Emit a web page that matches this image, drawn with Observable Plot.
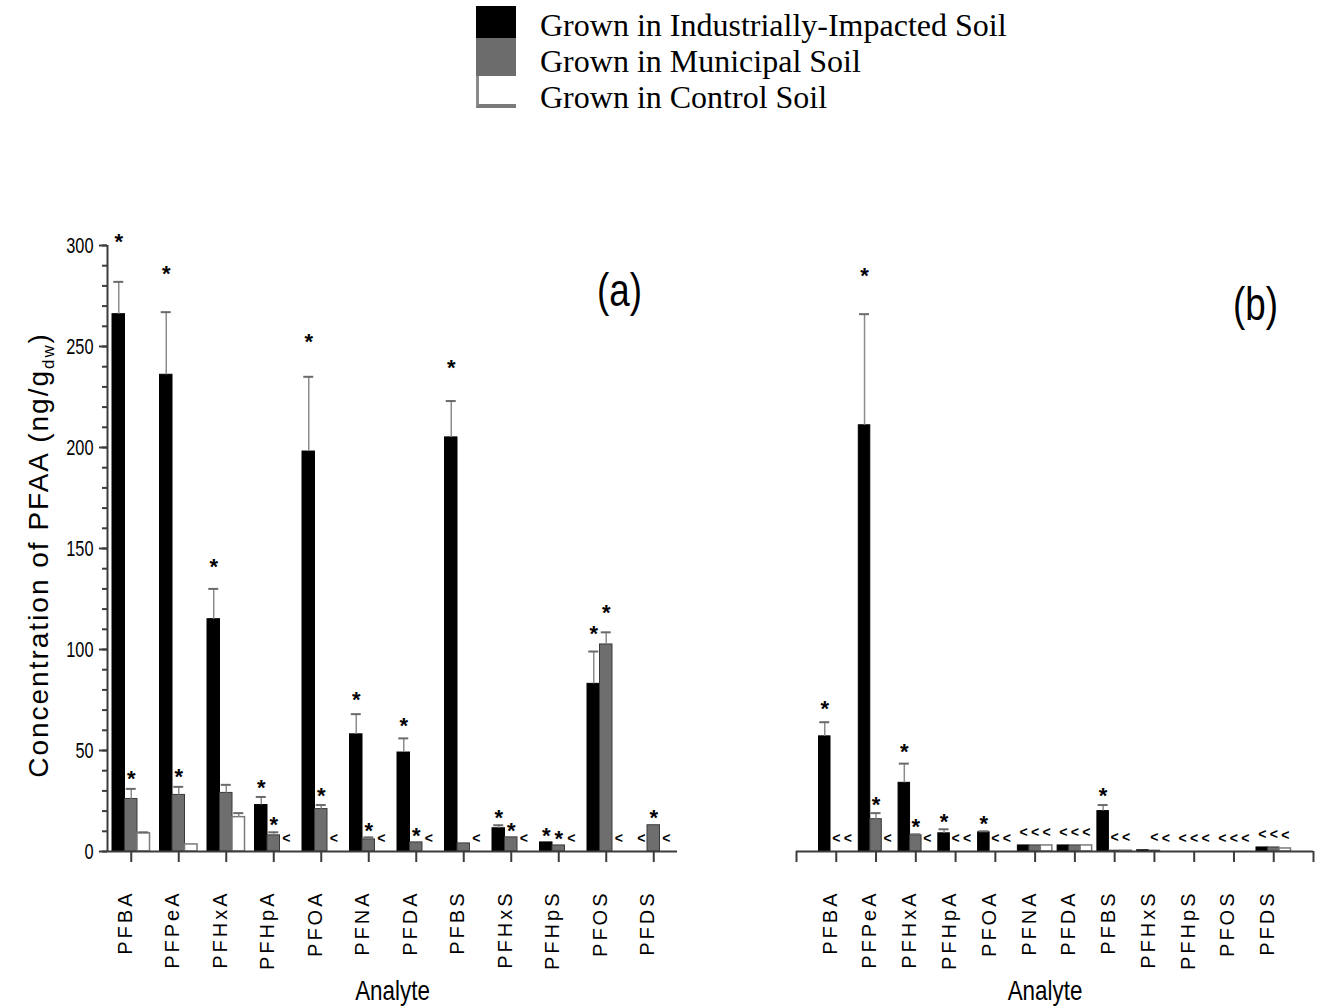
<!DOCTYPE html>
<html><head><meta charset="utf-8">
<script src="https://cdn.jsdelivr.net/npm/d3@7"></script>
<script src="https://cdn.jsdelivr.net/npm/@observablehq/plot@0.6"></script>
<style>
body{margin:0;background:#fff;}
#wrap{position:relative;width:1327px;height:1006px;overflow:hidden;background:#fff;}
.lg{position:absolute;left:540px;font-family:"Liberation Serif","Times New Roman",serif;font-size:32px;line-height:32px;color:#000;white-space:nowrap;}
.sw{position:absolute;left:476px;width:40px;box-sizing:border-box;}
#ylab{position:absolute;left:41px;top:555px;font-family:"Liberation Sans",Arial,sans-serif;font-size:28px;letter-spacing:2px;white-space:nowrap;transform:translate(-50%,-50%) rotate(-90deg);color:#000;}
#ylab sub{font-size:60%;}
.pn{position:absolute;top:200px;}
</style></head><body>
<div id="wrap">
  <div class="sw" style="top:6px;height:32px;background:#000;"></div>
  <div class="sw" style="top:38px;height:38px;background:#6c6c6c;"></div>
  <div class="sw" style="top:76px;height:32px;background:#fff;border-left:3px solid #8a8a8a;border-bottom:4px solid #7a7a7a;"></div>
  <div class="lg" id="lg0" style="top:9px;"></div>
  <div class="lg" id="lg1" style="top:45px;"></div>
  <div class="lg" id="lg2" style="top:81px;"></div>
  <div class="pn" id="pa" style="left:0px;"></div>
  <div class="pn" id="pb" style="left:700px;"></div>
  <div id="ylab">Concentration of PFAA (ng/g<sub>dw</sub>)</div>
</div>
<script>
const analytes = ["PFBA","PFPeA","PFHxA","PFHpA","PFOA","PFNA","PFDA","PFBS","PFHxS","PFHpS","PFOS","PFDS"];
const seriesNames = ["Grown in Industrially-Impacted Soil","Grown in Municipal Soil","Grown in Control Soil"];

// Panel (a)
const industrialA     = [266, 236, 115, 23, 198, 58, 49, 205, 11.5, 4.5, 83, 0];
const industrialAErr  = [16, 31, 15, 4, 37, 10, 7, 18, 1.5, 0, 16, 0];
const municipalA      = [26, 28, 29, 8, 21, 6, 4.5, 4, 7, 3, 102.5, 13];
const municipalAErr   = [5, 4, 4, 1.5, 2, 1, 0, 0, 0, 0, 6, 0];
const controlA        = [9, 3.5, 17, 0, 0, 0, 0, 0, 0, 0, 0, 0];
const controlAErr     = [0.5, 0, 2, 0, 0, 0, 0, 0, 0, 0, 0, 0];
const industrialAStar = [1, 1, 1, 1, 1, 1, 1, 1, 1, 1, 1, 0];
const municipalAStar  = [1, 1, 0, 1, 1, 1, 1, 0, 1, 1, 1, 1];
const controlAStar    = [0, 0, 0, 0, 0, 0, 0, 0, 0, 0, 0, 0];
const industrialALt   = [0, 0, 0, 0, 0, 0, 0, 0, 0, 0, 0, 1];
const municipalALt    = [0, 0, 0, 0, 0, 0, 0, 0, 0, 0, 0, 0];
const controlALt      = [0, 0, 0, 1, 1, 1, 1, 1, 1, 1, 1, 1];

// Panel (b)
const industrialB     = [57, 211, 34, 9, 9.5, 3, 3, 20, 0.6, 0, 0, 2];
const industrialBErr  = [7, 55, 9.5, 2, 0.5, 0, 0, 3, 0, 0, 0, 0];
const municipalB      = [0, 16, 8, 0, 0, 3, 3, 0.4, 0.4, 0, 0, 2];
const municipalBErr   = [0, 3, 0.5, 0, 0, 0, 0, 0, 0, 0, 0, 0];
const controlB        = [0, 0, 0, 0, 0, 3, 3, 0.4, 0, 0, 0, 1.5];
const controlBErr     = [0, 0, 0, 0, 0, 0, 0, 0, 0, 0, 0, 0];
const industrialBStar = [1, 1, 1, 1, 1, 0, 0, 1, 0, 0, 0, 0];
const municipalBStar  = [0, 1, 1, 0, 0, 0, 0, 0, 0, 0, 0, 0];
const controlBStar    = [0, 0, 0, 0, 0, 0, 0, 0, 0, 0, 0, 0];
const industrialBLt   = [0, 0, 0, 0, 0, 1, 1, 0, 0, 1, 1, 1];
const municipalBLt    = [1, 0, 0, 1, 1, 1, 1, 1, 1, 1, 1, 1];
const controlBLt      = [1, 1, 1, 1, 1, 1, 1, 1, 1, 1, 1, 1];

const yTicksMajor = [0, 50, 100, 150, 200, 250, 300];
const yTicksMinor = d3.range(0, 301, 10);

const fills   = ["#000000", "#6e6e6e", "#ffffff"];
const strokes = ["#000000", "#3a3a3a", "#7a7a7a"];
const sans    = "'Liberation Sans', Arial, sans-serif";

seriesNames.forEach((n, i) => document.getElementById("lg" + i).textContent = n);

function buildRows(vals, errs, stars, lts) {
  const out = [];
  vals.forEach((v, s) => analytes.forEach((a, i) => out.push({
    analyte: a, idx: i + 1, s, value: v[i], err: errs[s][i], star: stars[s][i], lt: lts[s][i]
  })));
  return out;
}

function panel(o) {
  const rows = o.rows;
  const [x0, x1] = o.xDomain;
  const stepPx = (o.width - o.marginLeft - o.marginRight) / (x1 - x0);
  const u = 1 / stepPx;
  const pos = d => d.idx + (d.s - 1) * o.offsetPx * u;
  const half = o.barPx * u / 2, cap = 5 * u;
  const marks = [];
  for (let s = 0; s < 3; s++) {
    marks.push(Plot.rectY(rows.filter(d => d.s === s && d.value > 0), {
      x1: d => pos(d) - half, x2: d => pos(d) + half, y1: 0, y2: d => d.value,
      fill: fills[s], stroke: strokes[s], strokeWidth: s === 2 ? 1.5 : 1, inset: 0
    }));
  }
  const eb = rows.filter(d => d.err > 0);
  marks.push(Plot.ruleX(eb, {x: pos, y1: d => d.value, y2: d => d.value + d.err, stroke: "#8c8c8c", strokeWidth: 1.5}));
  marks.push(Plot.ruleY(eb, {x1: d => pos(d) - cap, x2: d => pos(d) + cap, y: d => d.value + d.err, stroke: "#6a6a6a", strokeWidth: 2}));
  marks.push(Plot.text(rows.filter(d => d.star), {x: pos, y: d => (d.value + d.err) * 1.06, text: d => "*", dy: -6, fontSize: 22, fontWeight: "bold"}));
  marks.push(Plot.text(rows.filter(d => d.lt), {x: pos, y: d => d.value, text: d => "<", dy: -13, fontSize: 14, fontWeight: "bold"}));
  marks.push(Plot.ruleY([0], {stroke: "#3c3c3c", strokeWidth: 2}));
  marks.push(Plot.axisX({ticks: o.xTicks, tickSize: 11, tickFormat: () => "", stroke: "#3c3c3c", strokeWidth: 2, label: null}));
  marks.push(Plot.text(d3.range(1, analytes.length + 1), {
    x: d => d, text: d => analytes[d - 1], frameAnchor: "bottom", rotate: -90,
    textAnchor: "end", lineAnchor: "middle", dy: 39, dx: -6, fontSize: 20
  }));
  marks.push(Plot.text(["Analyte"], {text: d => d, frameAnchor: "bottom", lineAnchor: "middle", dy: 140, dx: o.analyteDx, fontSize: 28}));
  marks.push(Plot.text([o.tag], {text: d => d, frameAnchor: "top-right", lineAnchor: "middle", dx: o.tagDx, dy: o.tagDy, fontSize: 46, textAnchor: "middle"}));
  if (o.showY) {
    marks.push(Plot.ruleX([x0], {y1: 0, y2: 300, stroke: "#3c3c3c", strokeWidth: 2}));
    marks.push(Plot.axisY({ticks: yTicksMinor, tickSize: 5, tickFormat: () => "", stroke: "#3c3c3c", strokeWidth: 2, label: null}));
    marks.push(Plot.axisY({ticks: yTicksMajor, tickSize: 8, tickPadding: 6, fontSize: 22, stroke: "#3c3c3c", strokeWidth: 2, label: null}));
  }
  return Plot.plot({
    width: o.width, height: 806,
    marginLeft: o.marginLeft, marginRight: o.marginRight, marginTop: 45, marginBottom: 155,
    x: {type: "linear", domain: o.xDomain},
    y: {type: "linear", domain: [0, 300], axis: o.showY ? undefined : null},
    style: {fontFamily: sans, fontSize: "18px", color: "#000", background: "transparent", overflow: "visible"},
    marks
  });
}

// condensed look of the original's narrow sans lettering, letter-spaced tick names
function finish(svg) {
  svg.querySelectorAll("text").forEach(t => {
    const s = t.textContent;
    if (analytes.includes(s)) {
      t.setAttribute("letter-spacing", "3");
    } else if (/^\d+$/.test(s) || s === "Analyte" || /^\([ab]\)$/.test(s)) {
      const L = t.getComputedTextLength();
      const f = /^\d+$/.test(s) ? 0.74 : 0.8;
      t.setAttribute("textLength", (L * f).toFixed(1));
      t.setAttribute("lengthAdjust", "spacingAndGlyphs");
    }
  });
}

const svgA = panel({
  rows: buildRows([industrialA, municipalA, controlA], [industrialAErr, municipalAErr, controlAErr],
                  [industrialAStar, municipalAStar, controlAStar], [industrialALt, municipalALt, controlALt]),
  width: 700, marginLeft: 107, marginRight: 23, xDomain: [0.5, 12.5],
  xTicks: d3.range(1, 13), offsetPx: 12.5, barPx: 12.5, showY: true,
  tag: "(a)", tagDx: -58, tagDy: 46, analyteDx: 0
});
const svgB = panel({
  rows: buildRows([industrialB, municipalB, controlB], [industrialBErr, municipalBErr, controlBErr],
                  [industrialBStar, municipalBStar, controlBStar], [industrialBLt, municipalBLt, controlBLt]),
  width: 627, marginLeft: 96, marginRight: 14, xDomain: [0, 13],
  xTicks: d3.range(0, 14), offsetPx: 11.5, barPx: 11.5, showY: false,
  tag: "(b)", tagDx: -58, tagDy: 60, analyteDx: -10
});
document.getElementById("pa").appendChild(svgA);
document.getElementById("pb").appendChild(svgB);
finish(svgA);
finish(svgB);
</script>
</body></html>
